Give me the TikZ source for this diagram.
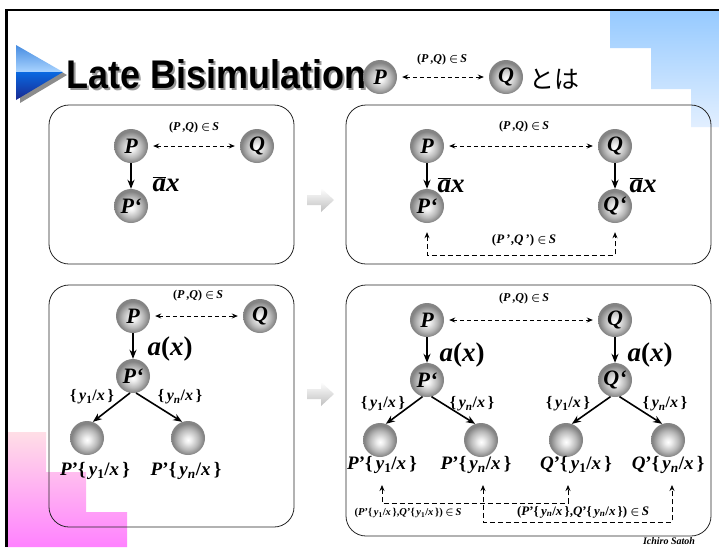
\documentclass[tikz,border=0pt]{standalone}
\usepackage{fontspec}
\setmainfont{Liberation Serif}
\newfontfamily\titlefont[FakeStretch=0.9]{Liberation Sans}
\newfontfamily\jpfont{Noto Sans CJK JP}
\usetikzlibrary{arrows.meta,calc}
\definecolor{ballmid}{RGB}{185,185,185}
\definecolor{balledge}{RGB}{132,132,132}
\definecolor{blueA}{RGB}{150,202,255}
\definecolor{blueB}{RGB}{226,239,255}
\definecolor{pinkA}{RGB}{255,222,230}
\definecolor{pinkB}{RGB}{255,130,255}
\definecolor{triA}{RGB}{70,140,225}
\definecolor{triB}{RGB}{170,212,255}
\definecolor{triC}{RGB}{10,105,225}
\definecolor{triD}{RGB}{25,40,145}
\pgfdeclareradialshading{sphere}{\pgfpoint{0bp}{-3bp}}{color(0bp)=(white); color(5bp)=(white!93!black); color(15bp)=(ballmid); color(23bp)=(balledge); color(50bp)=(balledge)}
\newcommand{\subone}{\{\,\textit{y}\textsubscript{1}/\textit{x}\,\}}
\newcommand{\subenn}{\{\,\textit{y}\textsubscript{\textit{n}}/\textit{x}\,\}}
\newcommand{\inS}{{\boldmath$\in$}\,\textit{S}}
\newcommand{\actax}{a{\upshape(}x{\upshape)}}
\begin{document}
\begin{tikzpicture}[x=1pt,y=-1pt,
  ball/.style={circle,minimum size=34pt,inner sep=0pt,shading=sphere,font=\fontsize{22}{22}\selectfont\bfseries\itshape},
  box/.style={draw=black!85,line width=0.8pt,rounded corners=20pt},
  trans/.style={-{Stealth[length=9pt,width=7pt]},line width=1.6pt},
  rel/.style={{Stealth[length=6pt,width=5pt]}-{Stealth[length=6pt,width=5pt]},dash pattern=on 4pt off 3pt,line width=0.8pt,shorten <=5pt,shorten >=5pt},
  relpath/.style={{Stealth[length=6pt,width=5pt]}-{Stealth[length=6pt,width=5pt]},dash pattern=on 5pt off 3pt,line width=0.8pt},
  pqlab/.style={font=\fontsize{12}{12}\selectfont\bfseries,inner sep=0pt},
  actlab/.style={font=\fontsize{27}{27}\selectfont\bfseries\itshape,inner sep=0pt},
  sublab/.style={font=\fontsize{16}{16}\selectfont\bfseries,inner sep=0pt},
  reslab/.style={font=\fontsize{19}{19}\selectfont\bfseries,inner sep=0pt},
  fatarrow/.pic={\shade[top color=white,bottom color=black!25] (-13,-5) -- (1,-5) -- (1,-12) -- (14,0) -- (1,12) -- (1,5) -- (-13,5) -- cycle;}
]
\useasboundingbox (0,0) rectangle (719,547);
\fill[white] (0,0) rectangle (719,547);
% decorations
\shade[top color=blueA,bottom color=blueB] (610,11) -- (719,11) -- (719,127) -- (691,127) -- (691,89) -- (651,89) -- (651,48) -- (610,48) -- cycle;
\shade[top color=pinkA,bottom color=pinkB] (6,432) -- (46,432) -- (46,472) -- (86,472) -- (86,512) -- (127,512) -- (127,547) -- (6,547) -- cycle;
\draw[line width=2.5pt] (6.5,547) -- (6.5,10) -- (719,10);
% title
\fill[black!45] (20,48) -- (67,75) -- (20,103) -- cycle;
\shade[top color=triA,bottom color=triB] (16,45) -- (63,72) -- (16,72) -- cycle;
\shade[top color=triC,bottom color=triD] (16,72) -- (63,72) -- (16,100) -- cycle;
\node[anchor=base west,inner sep=0pt,text=black!40,font=\titlefont\fontsize{40}{40}\selectfont\bfseries] (tshadow) at (68,90) {Late Bisimulation};
\node[anchor=base west,inner sep=0pt,font=\titlefont\fontsize{40}{40}\selectfont\bfseries] (title) at (66,88) {Late Bisimulation};
\node[ball] (tP) at (380,77) {P};
\node[ball] (tQ) at (506,77) {Q};
\draw[rel] (tP) -- (tQ);
\node[pqlab] (ts) at (442,60) {(\textit{P}\,,\textit{Q}) \inS};
\node[font=\jpfont\fontsize{25}{25}\selectfont,inner sep=0pt] (toha) at (554,79) {とは};
% top-left box
\draw[box] (49,105) rectangle (294,264);
\node[ball] (P1) at (131,146) {P};
\node[ball] (Q1) at (257,146) {Q};
\node[ball] (P1p) at (131,206) {P‘};
\draw[rel] (P1) -- (Q1);
\node[pqlab] (s1) at (194,128) {(\textit{P}\,,\textit{Q}) \inS};
\draw[trans] (P1) -- (P1p);
\node[actlab] (ax1) at (166,184) {$\overline{\mbox{a}}$x};
\pic at (320,200) {fatarrow};
% top-right box
\draw[box] (346,105) rectangle (711,264);
\node[ball] (P2) at (427,146) {P};
\node[ball] (Q2) at (615,146) {Q};
\node[ball] (P2p) at (427,206) {P‘};
\node[ball] (Q2p) at (615,206) {Q‘};
\draw[rel] (P2) -- (Q2);
\node[pqlab] (s2) at (524,127) {(\textit{P}\,,\textit{Q}) \inS};
\draw[trans] (P2) -- (P2p);
\draw[trans] (Q2) -- (Q2p);
\node[actlab] (ax2) at (451,185) {$\overline{\mbox{a}}$x};
\node[actlab] (ax3) at (643,185) {$\overline{\mbox{a}}$x};
\draw[relpath] ([yshift=-9pt]P2p.south) -- ++(0,23) -| ([yshift=-9pt]Q2p.south);
\node[pqlab,font=\fontsize{13}{13}\selectfont\bfseries] (s3) at (524,240) {(\textit{P}\,',\textit{Q}\,') \inS};
% bottom-left box
\draw[box] (49,285) rectangle (294,527);
\node[ball] (P3) at (133,316) {P};
\node[ball] (Q3) at (260,316) {Q};
\node[ball] (P3p) at (133,376) {P‘};
\node[ball] (L1) at (87,438) {};
\node[ball] (L2) at (188,438) {};
\draw[rel] (P3) -- (Q3);
\node[pqlab] (s4) at (198,296) {(\textit{P}\,,\textit{Q}) \inS};
\draw[trans] (P3) -- (P3p);
\node[actlab] (ax4) at (170,349) {\actax};
\draw[trans] (P3p.-100) -- (L1.70);
\draw[trans] (P3p.-80) -- (L2.110);
\node[sublab] (b1) at (92,397) {\subone};
\node[sublab] (b2) at (180,397) {\subenn};
\node[reslab] (r1) at (95,471) {\textit{P}'\subone};
\node[reslab] (r2) at (186,471) {\textit{P}'\subenn};
\pic at (320,394) {fatarrow};
% bottom-right box
\draw[box] (346,285) rectangle (711,536);
\node[ball] (P4) at (427,320) {P};
\node[ball] (Q4) at (615,320) {Q};
\node[ball] (P4p) at (427,380) {P‘};
\node[ball] (Q4p) at (615,380) {Q‘};
\node[ball] (B1) at (380,440) {};
\node[ball] (B2) at (481,440) {};
\node[ball] (B3) at (566,440) {};
\node[ball] (B4) at (668,440) {};
\draw[rel] (P4) -- (Q4);
\node[pqlab] (s5) at (524,299) {(\textit{P}\,,\textit{Q}) \inS};
\draw[trans] (P4) -- (P4p);
\draw[trans] (Q4) -- (Q4p);
\node[actlab] (ax5) at (462,355) {\actax};
\node[actlab] (ax6) at (650,355) {\actax};
\draw[trans] (P4p.-105) -- (B1.70);
\draw[trans] (P4p.-75) -- (B2.110);
\draw[trans] (Q4p.-105) -- (B3.70);
\draw[trans] (Q4p.-75) -- (B4.110);
\node[sublab] (b3) at (383,404) {\subone};
\node[sublab] (b4) at (472,404) {\subenn};
\node[sublab] (b5) at (568,404) {\subone};
\node[sublab] (b6) at (665,404) {\subenn};
\node[reslab] (r3) at (382,465) {\textit{P}'\subone};
\node[reslab] (r4) at (476,465) {\textit{P}'\subenn};
\node[reslab] (r5) at (576,465) {\textit{Q}'\subone};
\node[reslab] (r6) at (668,465) {\textit{Q}'\subenn};
\coordinate (c1a) at (382,485);
\coordinate (c1b) at (568,485);
\coordinate (c2a) at (483,485);
\coordinate (c2b) at (672,485);
\draw[relpath] (c1a) -- ++(0,18) -| (c1b);
\draw[relpath] (c2a) -- ++(0,37) -| (c2b);
\node[pqlab,font=\fontsize{10.5}{10.5}\selectfont\bfseries] (s6) at (408,513) {(\textit{P}'\subone,\textit{Q}'\subone) \inS};
\node[pqlab,font=\fontsize{13}{13}\selectfont\bfseries] (s7) at (583,512) {(\textit{P}'\subenn,\textit{Q}'\subenn) \inS};
\node[font=\fontsize{10}{10}\selectfont\bfseries\itshape,inner sep=0pt] (auth) at (669,541) {Ichiro Satoh};
\end{tikzpicture}
\end{document}
